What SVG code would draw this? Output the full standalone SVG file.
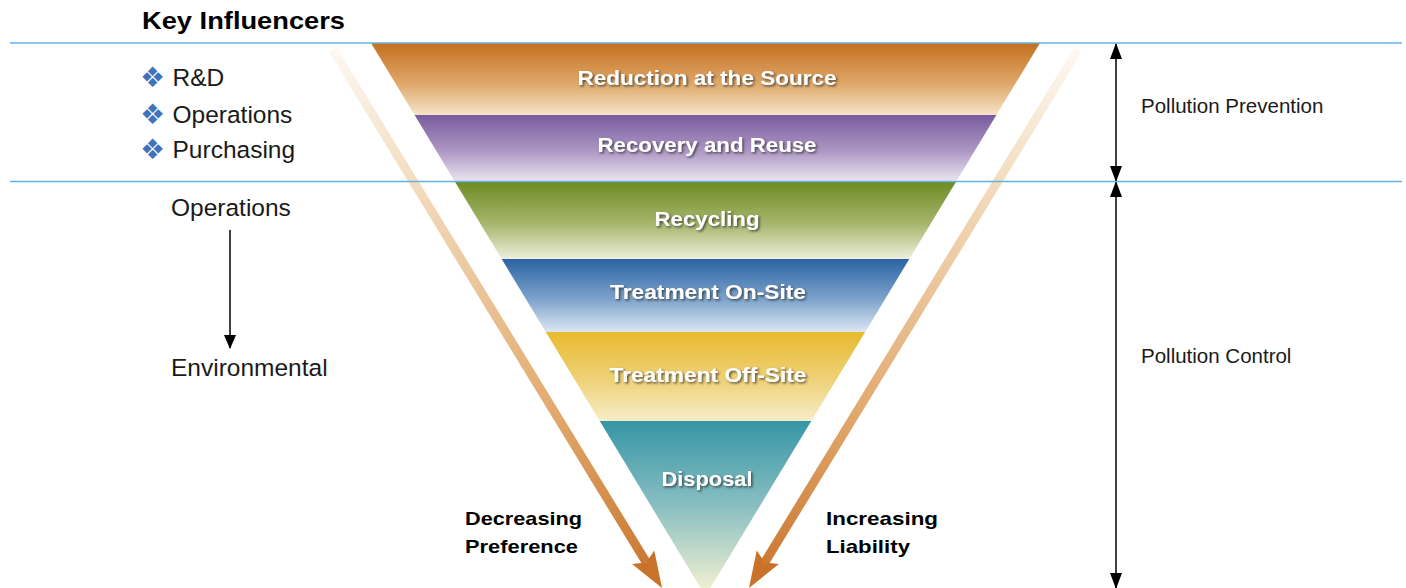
<svg xmlns="http://www.w3.org/2000/svg" width="1406" height="588" viewBox="0 0 1406 588">
<style>
.lbl{font-family:"Liberation Sans",Arial,sans-serif;font-size:24.5px;fill:#1a1a1a}
.side{font-family:"Liberation Sans",Arial,sans-serif;font-size:20.5px;fill:#1a1a1a}
.bold{font-family:"Liberation Sans",Arial,sans-serif;font-weight:bold;fill:#000}
.band{font-family:"Liberation Sans",Arial,sans-serif;font-weight:bold;font-size:20px;fill:#fff;filter:url(#sh)}
.bul{font-family:"DejaVu Sans",sans-serif;font-size:28px;fill:#3F74BC}
.hl{stroke:#62B3E4;stroke-width:1.6;fill:none}
.blk{stroke:#000;stroke-width:1.5;fill:none}
</style>
<defs>
<filter id="sh" x="-10%" y="-30%" width="120%" height="160%">
<feDropShadow dx="1.5" dy="1.5" stdDeviation="1" flood-color="#2a2a2a" flood-opacity="0.75"/>
</filter>
<linearGradient id="gO" x1="0" y1="0" x2="0" y2="1"><stop offset="0" stop-color="#C5701F"/><stop offset="0.55" stop-color="#DEA668"/><stop offset="1" stop-color="#F6E4C9"/></linearGradient>
<linearGradient id="gP" x1="0" y1="0" x2="0" y2="1"><stop offset="0" stop-color="#7A5B9E"/><stop offset="0.55" stop-color="#AD98C4"/><stop offset="1" stop-color="#EBE4F0"/></linearGradient>
<linearGradient id="gG" x1="0" y1="0" x2="0" y2="1"><stop offset="0" stop-color="#6C8A22"/><stop offset="0.55" stop-color="#A7B66D"/><stop offset="1" stop-color="#EEEFDC"/></linearGradient>
<linearGradient id="gB" x1="0" y1="0" x2="0" y2="1"><stop offset="0" stop-color="#2B63A3"/><stop offset="0.55" stop-color="#7DA3CB"/><stop offset="1" stop-color="#DCE7F2"/></linearGradient>
<linearGradient id="gY" x1="0" y1="0" x2="0" y2="1"><stop offset="0" stop-color="#E8BA2F"/><stop offset="0.55" stop-color="#EFD27A"/><stop offset="1" stop-color="#F7EDC8"/></linearGradient>
<linearGradient id="gT" x1="0" y1="421" x2="0" y2="596" gradientUnits="userSpaceOnUse"><stop offset="0" stop-color="#3596A6"/><stop offset="0.5" stop-color="#8CC0C2"/><stop offset="1" stop-color="#F8F4D2"/></linearGradient>
<linearGradient id="sL" x1="333" y1="50" x2="662" y2="588" gradientUnits="userSpaceOnUse"><stop offset="0" stop-color="#FDF8F2"/><stop offset="0.25" stop-color="#F2DCBE"/><stop offset="0.65" stop-color="#E3AC72"/><stop offset="1" stop-color="#C8722A"/></linearGradient>
<linearGradient id="sR" x1="1078" y1="50" x2="749" y2="588" gradientUnits="userSpaceOnUse"><stop offset="0" stop-color="#FDF8F2"/><stop offset="0.25" stop-color="#F2DCBE"/><stop offset="0.65" stop-color="#E3AC72"/><stop offset="1" stop-color="#C8722A"/></linearGradient>
<marker id="ah" viewBox="0 0 16 12" refX="15" refY="6" markerWidth="16" markerHeight="12" markerUnits="userSpaceOnUse" orient="auto-start-reverse">
<path d="M0,0 L16,6 L0,12 z" fill="#000"/>
</marker>
<marker id="ahs" viewBox="0 0 14 12" refX="13" refY="6" markerWidth="14" markerHeight="12" markerUnits="userSpaceOnUse" orient="auto">
<path d="M0,0 L14,6 L0,12 z" fill="#000"/>
</marker>
</defs>

<g id="connectors">
<g id="stripe-left">
<line x1="333" y1="50" x2="646.3" y2="562.4" stroke="url(#sL)" stroke-width="9"/>
<polygon points="662,588 654.3,550.5 646.3,562.4 632.1,564.1" fill="#C8722A"/>
</g>
<g id="stripe-right">
<line x1="1078" y1="50" x2="764.7" y2="562.4" stroke="url(#sR)" stroke-width="9"/>
<polygon points="749,588 756.7,550.5 764.7,562.4 778.9,564.1" fill="#C8722A"/>
</g>
<line class="blk" x1="230" y1="230" x2="230" y2="348" marker-end="url(#ahs)"/>
<line class="blk" x1="1116" y1="44" x2="1116" y2="181" marker-start="url(#ah)" marker-end="url(#ah)"/>
<line class="blk" x1="1116" y1="182" x2="1116" y2="588" marker-start="url(#ah)" marker-end="url(#ah)"/>
</g>

<g id="band-reduction">
<polygon points="371,43 1040,43 996.4,115 414.6,115" fill="url(#gO)"/>
<text class="band" x="707" y="85" text-anchor="middle" textLength="259" lengthAdjust="spacingAndGlyphs">Reduction at the Source</text>
</g>
<g id="band-recovery">
<polygon points="414.6,115 996.4,115 956.5,181 454.5,181" fill="url(#gP)"/>
<text class="band" x="707" y="152" text-anchor="middle" textLength="219" lengthAdjust="spacingAndGlyphs">Recovery and Reuse</text>
</g>
<g id="band-recycling">
<polygon points="454.5,181 956.5,181 909.3,259 501.7,259" fill="url(#gG)"/>
<text class="band" x="707" y="226" text-anchor="middle" textLength="105" lengthAdjust="spacingAndGlyphs">Recycling</text>
</g>
<g id="band-onsite">
<polygon points="501.7,259 909.3,259 865.2,332 545.8,332" fill="url(#gB)"/>
<text class="band" x="708" y="299" text-anchor="middle" textLength="196" lengthAdjust="spacingAndGlyphs">Treatment On-Site</text>
</g>
<g id="band-offsite">
<polygon points="545.8,332 865.2,332 811.3,421 599.7,421" fill="url(#gY)"/>
<text class="band" x="708" y="382" text-anchor="middle" textLength="197" lengthAdjust="spacingAndGlyphs">Treatment Off-Site</text>
</g>
<g id="band-disposal">
<polygon points="599.7,421 811.3,421 705.5,596" fill="url(#gT)"/>
<text class="band" x="707" y="486" text-anchor="middle" textLength="91" lengthAdjust="spacingAndGlyphs">Disposal</text>
</g>

<g id="rules">
<line class="hl" x1="10" y1="43" x2="1402" y2="43"/>
<line class="hl" x1="10" y1="181.5" x2="1402" y2="181.5"/>
</g>

<g id="key-influencers">
<text class="bold" x="142" y="29" font-size="24" textLength="203" lengthAdjust="spacingAndGlyphs">Key Influencers</text>
<text class="bul" x="140" y="87">❖</text>
<text class="lbl" x="172.5" y="86">R&amp;D</text>
<text class="bul" x="140" y="124">❖</text>
<text class="lbl" x="172.5" y="123">Operations</text>
<text class="bul" x="140" y="159">❖</text>
<text class="lbl" x="172.5" y="158">Purchasing</text>
</g>
<g id="operations">
<text class="lbl" x="171" y="216">Operations</text>
</g>
<g id="environmental">
<text class="lbl" x="171" y="376">Environmental</text>
</g>
<g id="decreasing-preference">
<text class="bold" x="465" y="525" font-size="19" textLength="117" lengthAdjust="spacingAndGlyphs">Decreasing</text>
<text class="bold" x="465" y="553" font-size="19" textLength="113" lengthAdjust="spacingAndGlyphs">Preference</text>
</g>
<g id="increasing-liability">
<text class="bold" x="826" y="525" font-size="19" textLength="112" lengthAdjust="spacingAndGlyphs">Increasing</text>
<text class="bold" x="826" y="553" font-size="19" textLength="84" lengthAdjust="spacingAndGlyphs">Liability</text>
</g>
<g id="pollution-prevention">
<text class="side" x="1141" y="113">Pollution Prevention</text>
</g>
<g id="pollution-control">
<text class="side" x="1141" y="363">Pollution Control</text>
</g>
</svg>
